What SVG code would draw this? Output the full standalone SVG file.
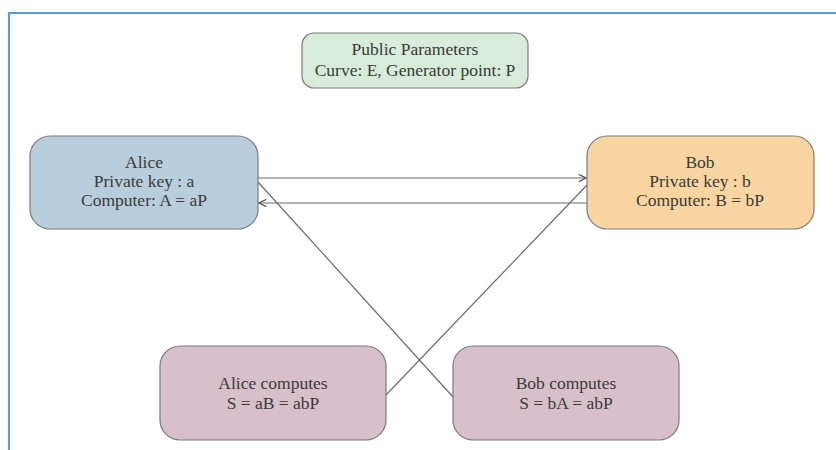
<svg xmlns="http://www.w3.org/2000/svg" width="836" height="450" viewBox="0 0 836 450">
<defs>
<style>
.box{stroke:#7a7a7a;stroke-width:1.2}
.t{font-family:"Liberation Serif","Times New Roman",serif;font-size:17.5px;fill:#3a3a3a;text-anchor:middle}
.c{stroke:#6a6a6a;stroke-width:1.2;fill:none}
</style>
<marker id="arr" viewBox="0 0 10 10" refX="9" refY="5" markerWidth="9" markerHeight="9" markerUnits="userSpaceOnUse" orient="auto">
<path d="M1,1 L9,5 L1,9" fill="none" stroke="#555" stroke-width="1.4"/>
</marker>
</defs>
<rect width="836" height="450" fill="#fff"/>
<path d="M9,450 V13 H836" fill="none" stroke="#5b9bd5" stroke-width="2.2"/>
<g id="connectors">
<line class="c" x1="258" y1="178" x2="586" y2="178" marker-end="url(#arr)"/>
<line class="c" x1="587" y1="203" x2="259" y2="203" marker-end="url(#arr)"/>
<line class="c" x1="258" y1="182" x2="453" y2="397"/>
<line class="c" x1="386" y1="395" x2="587" y2="185"/>
</g>
<g id="public">
<rect class="box" x="302" y="33" width="226" height="55" rx="12" fill="#d8ecd9"/>
<text class="t" x="415" y="55">Public Parameters</text>
<text class="t" x="415" y="76">Curve: E, Generator point: P</text>
</g>
<g id="alice">
<rect class="box" x="30" y="136" width="228" height="93" rx="20" fill="#b8cedc"/>
<text class="t" x="144" y="168">Alice</text>
<text class="t" x="144" y="187">Private key : a</text>
<text class="t" x="144" y="206">Computer: A = aP</text>
</g>
<g id="bob">
<rect class="box" x="587" y="136" width="227" height="93" rx="20" fill="#f9d6a1"/>
<text class="t" x="700" y="168">Bob</text>
<text class="t" x="700" y="187">Private key : b</text>
<text class="t" x="700" y="206">Computer: B = bP</text>
</g>
<g id="alice-computes">
<rect class="box" x="160" y="346" width="226" height="94" rx="20" fill="#d8c0ca"/>
<text class="t" x="273" y="389">Alice computes</text>
<text class="t" x="273" y="409">S = aB = abP</text>
</g>
<g id="bob-computes">
<rect class="box" x="453" y="346" width="226" height="94" rx="20" fill="#d8c0ca"/>
<text class="t" x="566" y="389">Bob computes</text>
<text class="t" x="566" y="409">S = bA = abP</text>
</g>
</svg>
